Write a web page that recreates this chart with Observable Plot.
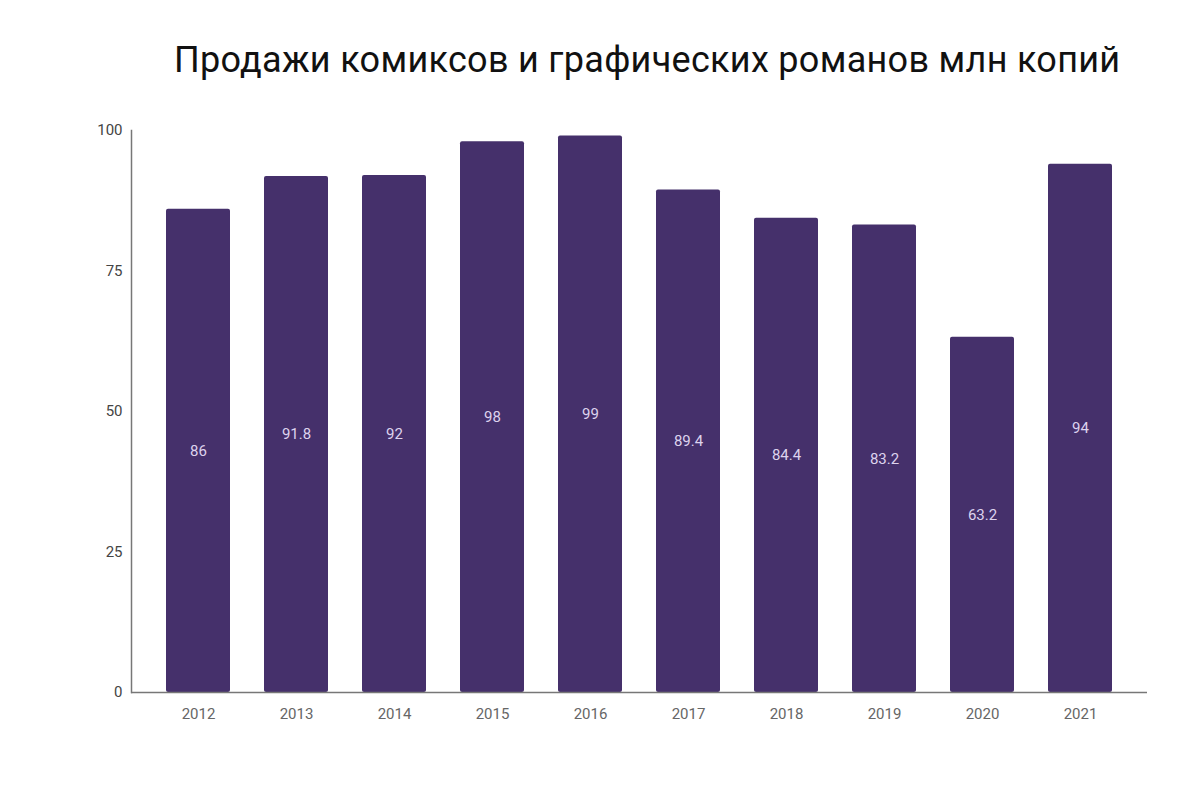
<!DOCTYPE html>
<html><head><meta charset="utf-8">
<script src="https://cdn.jsdelivr.net/npm/d3@7"></script>
<script src="https://cdn.jsdelivr.net/npm/@observablehq/plot@0.6"></script>
<style>
body{margin:0;background:#fff;font-family:Roboto,sans-serif;}
#title{height:100px;box-sizing:border-box;padding-top:40px;padding-left:174px;font-size:36px;letter-spacing:0.3px;line-height:40px;color:#111;font-family:Roboto,sans-serif;white-space:nowrap;}
</style></head><body>
<div id="title">Продажи комиксов и графических романов млн копий</div>
<div id="chart"></div>
<script>
const years = ["2012","2013","2014","2015","2016","2017","2018","2019","2020","2021"];
const sales = [86, 91.8, 92, 98, 99, 89.4, 84.4, 83.2, 63.2, 94];
const yTicks = [0, 25, 50, 75, 100];
const data = years.map((y, i) => ({year: y, v: sales[i]}));
const chart = Plot.plot({
  width: 1200, height: 640,
  marginTop: 30, marginBottom: 48, marginLeft: 131, marginRight: 53,
  style: {fontFamily: "Roboto, sans-serif", background: "#fff"},
  x: {domain: years, padding: 0.35, label: null},
  y: {domain: [0, 100], label: null},
  marks: [
    Plot.barY(data, {x: "year", y: "v", fill: "#45306b", rx: 2}),
    Plot.text(data, {x: "year", y: d => d.v / 2, text: d => String(d.v), fill: "#ddd3ee", fontSize: 15}),
    Plot.frame({anchor: "left", stroke: "#777", strokeWidth: 1.5}),
    Plot.ruleY([0], {stroke: "#777", strokeWidth: 1.5}),
    Plot.axisY({ticks: yTicks, tickSize: 0, tickPadding: 9, fontSize: 15, color: "#444", label: null}),
    Plot.axisX({tickSize: 0, tickPadding: 16, fontSize: 15, color: "#666", label: null})
  ]
});
document.getElementById("chart").appendChild(chart);
</script>
</body></html>
